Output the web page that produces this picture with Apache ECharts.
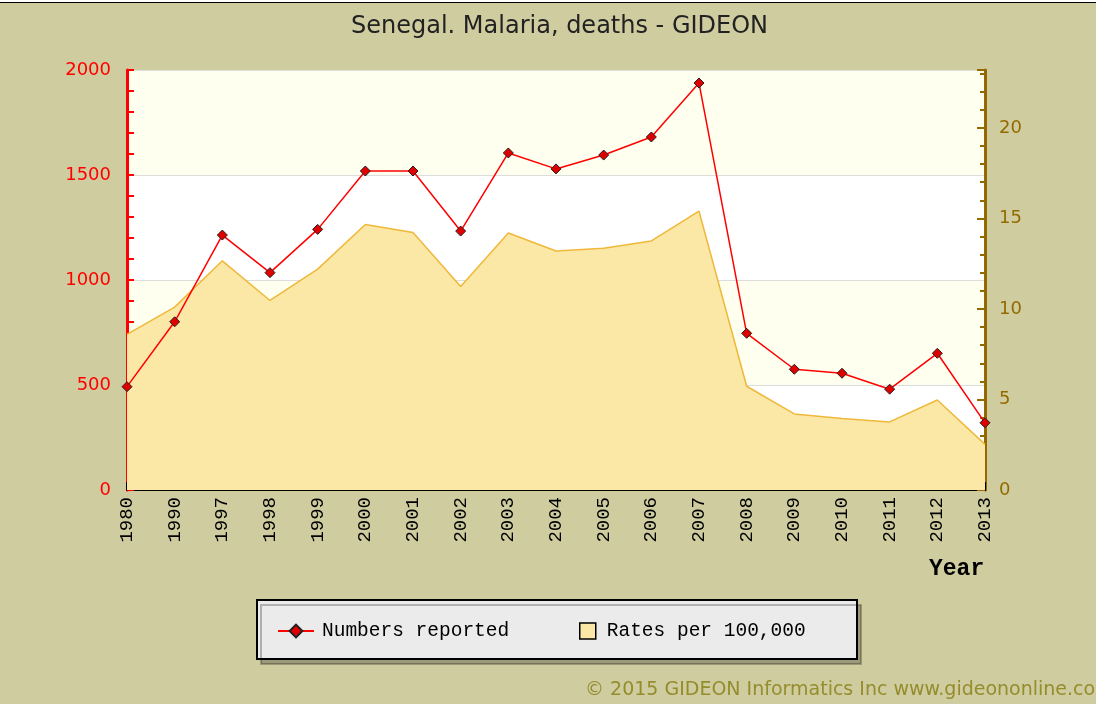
<!DOCTYPE html>
<html lang="en">

<head>
  <meta charset="UTF-8">
  <title>Senegal. Malaria, deaths - GIDEON</title>
  <script src="https://cdn.jsdelivr.net/npm/echarts@6.0.0/dist/echarts.min.js"></script>
  <style>
    html, body { margin: 0; padding: 0; background: #CFCDA0; }
    #main { width: 1096px; height: 704px; }
  </style>
</head>

<body>
  <div id="main"></div>
  <script>
    // data
    var years = ['1980', '1990', '1997', '1998', '1999', '2000', '2001', '2002', '2003', '2004',
      '2005', '2006', '2007', '2008', '2009', '2010', '2011', '2012', '2013']
    var reported = [492, 801, 1214, 1035, 1241, 1519, 1519, 1233, 1605, 1529,
      1595, 1681, 1938, 746, 575, 556, 480, 651, 320]
    var rates = [8.6, 10.1, 12.66, 10.47, 12.2, 14.67, 14.23, 11.24, 14.2, 13.2,
      13.35, 13.76, 15.4, 5.73, 4.2, 3.95, 3.76, 4.97, 2.52]

    var myChart = echarts.init(document.getElementById('main'))
    var option = {
      backgroundColor: '#CFCDA0',
      animation: false,
      title: {
        text: 'Senegal. Malaria, deaths - GIDEON',
        left: 346,
        top: 10,
        textStyle: { color: '#222', fontSize: 24, fontWeight: 'normal', fontFamily: 'DejaVu Sans' }
      },
      grid: { left: 127, right: 111, top: 70, bottom: 214 },
      legend: [
        {
          left: 272,
          top: 616,
          itemWidth: 36,
          itemHeight: 16,
          textStyle: { color: '#000', fontSize: 19.5, fontFamily: 'Liberation Mono', padding: [0, 0, 0, 3] },
          data: [{ name: 'Numbers reported' }]
        },
        {
          left: 574,
          top: 616,
          itemWidth: 16,
          itemHeight: 16,
          textStyle: { color: '#000', fontSize: 19.5, fontFamily: 'Liberation Mono', padding: [0, 0, 0, 6] },
          data: [{ name: 'Rates per 100,000', icon: 'rect', itemStyle: { borderColor: '#000', borderWidth: 1.5 } }]
        }
      ],
      graphic: [
        {
          type: 'rect', z: -1,
          shape: { x: 257, y: 600, width: 600, height: 59 },
          style: { fill: '#EBEBEB', stroke: '#000', lineWidth: 2, shadowColor: 'rgba(0,0,0,0.25)', shadowOffsetX: 4, shadowOffsetY: 5 }
        },
        {
          type: 'text', left: 929, top: 558,
          style: { text: 'Year', fill: '#000', font: 'bold 23px "Liberation Mono"' }
        },
        {
          type: 'text', left: 585, top: 681,
          style: { text: '\u00a9 2015 GIDEON Informatics Inc www.gideononline.com', fill: '#958C2C', font: '19px "DejaVu Sans"' }
        },
        {
          type: 'rect',
          shape: { x: 0, y: 0, width: 1096, height: 2 },
          style: { fill: '#fff' }
        },
        {
          type: 'rect',
          shape: { x: 0, y: 2, width: 1096, height: 1 },
          style: { fill: '#000' }
        }
      ],
      xAxis: {
        type: 'category',
        data: years,
        boundaryGap: false,
        axisLine: { lineStyle: { color: '#000', width: 2 } },
        axisTick: { inside: true, length: 8, lineStyle: { color: '#000', width: 2 } },
        axisLabel: {
          rotate: 90,
          margin: 7,
          color: '#000',
          fontSize: 19,
          fontFamily: 'Liberation Mono'
        }
      },
      yAxis: [
        {
          type: 'value',
          min: 0,
          max: 2000,
          interval: 500,
          axisLine: { show: true, lineStyle: { color: '#FF0000', width: 3 } },
          axisTick: { show: true, inside: true, length: 7, lineStyle: { color: '#FF0000', width: 2 } },
          minorTick: { show: true, splitNumber: 5, length: 7, lineStyle: { color: '#FF0000', width: 2 } },
          axisLabel: {
            color: '#FF0000', fontSize: 18, fontFamily: 'DejaVu Sans', margin: 16,
            formatter: function (v) { return String(v) }
          },
          splitLine: { show: true, lineStyle: { color: '#DDDDDD', width: 1 } },
          splitArea: { show: true, areaStyle: { color: ['#FFFFFF', '#FFFFF0'] } }
        },
        {
          type: 'value',
          min: 0,
          max: 23.2,
          interval: 5,
          position: 'right',
          axisLine: { show: true, lineStyle: { color: '#946A00', width: 3 } },
          axisTick: { show: true, inside: true, length: 8, lineStyle: { color: '#946A00', width: 2 } },
          minorTick: { show: true, splitNumber: 5, length: 5, lineStyle: { color: '#946A00', width: 2 } },
          axisLabel: { color: '#946A00', fontSize: 18, fontFamily: 'DejaVu Sans', margin: 14, showMaxLabel: false },
          splitLine: { show: false }
        }
      ],
      series: [
        {
          name: 'Rates per 100,000',
          type: 'line',
          yAxisIndex: 1,
          data: rates,
          symbol: 'none',
          z: 1,
          lineStyle: { color: '#F0B83A', width: 1.5 },
          itemStyle: { color: '#FBE8A6' },
          areaStyle: { color: '#FBE8A6', opacity: 1 }
        },
        {
          name: 'Numbers reported',
          type: 'line',
          yAxisIndex: 0,
          data: reported,
          symbol: 'diamond',
          symbolSize: 10,
          z: 3,
          lineStyle: { color: '#FF0000', width: 1.5 },
          itemStyle: { color: '#E00000', borderColor: '#222', borderWidth: 1 }
        }
      ]
    }
    myChart.setOption(option)
  </script>
</body>

</html>
